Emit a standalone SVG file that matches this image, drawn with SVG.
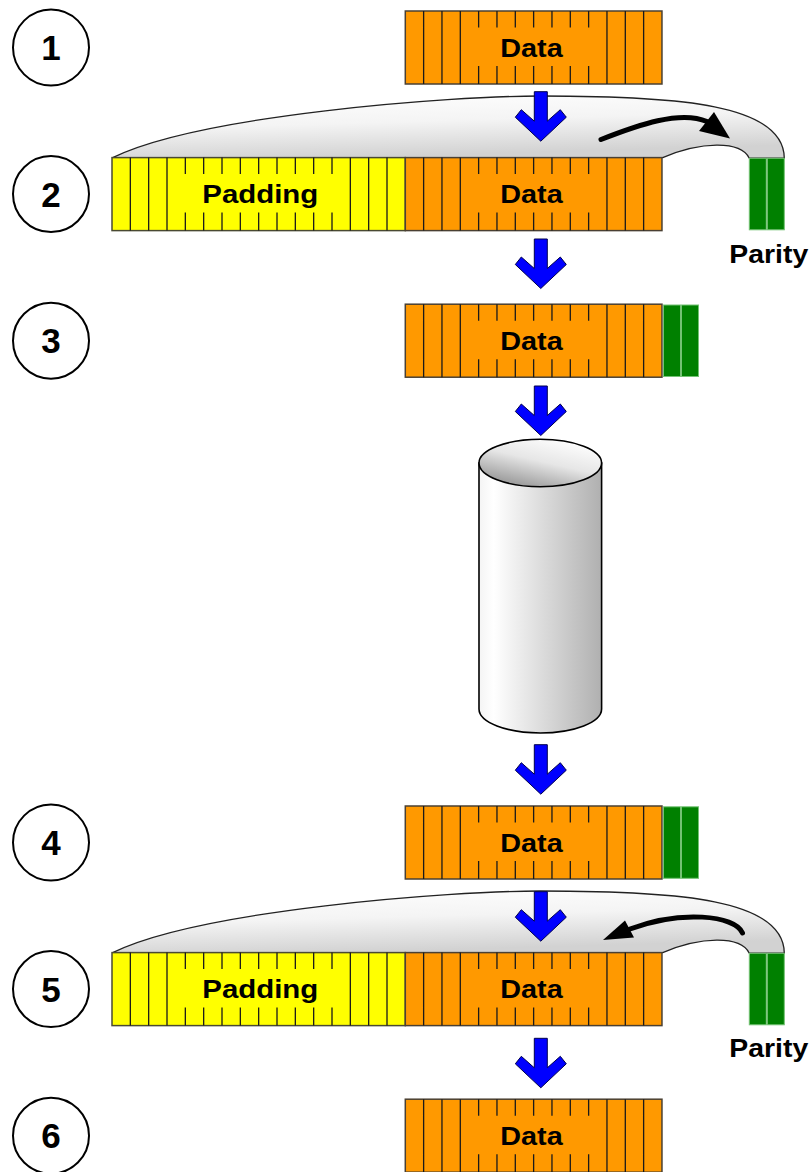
<svg xmlns="http://www.w3.org/2000/svg" xmlns:xlink="http://www.w3.org/1999/xlink" width="812" height="1172" viewBox="0 0 812 1172">
<style>
.num{font-family:"Liberation Sans",Arial,sans-serif;font-weight:bold;font-size:35px;text-anchor:middle;fill:#000}
.lbl{font-family:"Liberation Sans",Arial,sans-serif;font-weight:bold;font-size:26.5px;text-anchor:middle;fill:#000}
.circ{fill:#fff;stroke:#000;stroke-width:2}
.cells{fill:none;stroke:#1a1a1a;stroke-width:1.3}
.bar{fill:#008000;stroke:#74c274;stroke-width:1}
.blue{fill:#0000ff;stroke:#00004d;stroke-width:1}
.swoosh{fill:url(#gSwoosh);stroke:#222;stroke-width:1.3}
.curve{fill:none;stroke:#000;stroke-width:5;stroke-linecap:round}
</style>
<defs>
<linearGradient id="gSwoosh" x1="0" y1="0" x2="0.3" y2="1">
<stop offset="0" stop-color="#ffffff"/>
<stop offset="0.5" stop-color="#f4f4f4"/>
<stop offset="1" stop-color="#d2d2d2"/>
</linearGradient>
<linearGradient id="gCylBody" x1="0" y1="0" x2="1" y2="0">
<stop offset="0" stop-color="#f4f4f4"/>
<stop offset="0.12" stop-color="#ffffff"/>
<stop offset="1" stop-color="#b0b0b0"/>
</linearGradient>
<linearGradient id="gCylTop" x1="0.15" y1="1" x2="0.75" y2="0">
<stop offset="0" stop-color="#8c8c8c"/>
<stop offset="0.55" stop-color="#e6e6e6"/>
<stop offset="1" stop-color="#ffffff"/>
</linearGradient>
<g id="dataBlock">
<rect x="0" y="0" width="256.67" height="73" fill="#ff9900" stroke="#4a4033" stroke-width="1.5"/>
<path class="cells" d="M18.33,0V73M36.67,0V73M55,0V73M201.67,0V73M220,0V73M238.33,0V73M73.33,0V16.5M73.33,55V73M91.67,0V16.5M91.67,55V73M110,0V16.5M110,55V73M128.33,0V16.5M128.33,55V73M146.67,0V16.5M146.67,55V73M165,0V16.5M165,55V73M183.33,0V16.5M183.33,55V73"/>
</g>
<g id="padBlock">
<rect x="0" y="0" width="293.33" height="73" fill="#ffff00" stroke="#4a4a33" stroke-width="1.5"/>
<path class="cells" d="M18.33,0V73M36.67,0V73M55,0V73M238.33,0V73M256.67,0V73M275,0V73M73.33,0V16.5M73.33,55V73M91.67,0V16.5M91.67,55V73M110,0V16.5M110,55V73M128.33,0V16.5M128.33,55V73M146.67,0V16.5M146.67,55V73M165,0V16.5M165,55V73M183.33,0V16.5M183.33,55V73M201.67,0V16.5M201.67,55V73M220,0V16.5M220,55V73"/>
</g>
<g id="parity">
<rect class="bar" x="0" y="0" width="17" height="71.5"/>
<rect class="bar" x="18" y="0" width="17" height="71.5"/>
</g>
<polygon id="blueArrow" class="blue" points="-6.5,0 6.5,0 6.5,29.5 19.5,18 25.5,25.5 0,49.5 -25.5,25.5 -19.5,18 -6.5,29.5"/>
</defs>
<rect width="812" height="1172" fill="#fff"/>

<g id="connectors">
<path id="swoosh2" class="swoosh" d="M112.7,157.6 C200,115 450,96 540,96 C680,96 784,104 784.3,158.2 L749.3,158.2 C740,140 700,142 662.7,157.6 Z"/>
<path id="swoosh5" class="swoosh" transform="translate(0,795)" d="M112.7,157.6 C200,115 450,96 540,96 C680,96 784,104 784.3,158.2 L749.3,158.2 C740,140 700,142 662.7,157.6 Z"/>
</g>

<g id="step1">
<circle class="circ" cx="51" cy="47.5" r="38"/>
<text class="num" x="51" y="60">1</text>
<use xlink:href="#dataBlock" x="405.3" y="11"/>
<text class="lbl" x="531.5" y="56.5" textLength="62.5" lengthAdjust="spacingAndGlyphs">Data</text>
</g>

<g id="step2">
<circle class="circ" cx="51" cy="194.1" r="38"/>
<text class="num" x="51" y="206.6">2</text>
<use xlink:href="#padBlock" x="112" y="157.6"/>
<use xlink:href="#dataBlock" x="405.3" y="157.6"/>
<text class="lbl" x="260.3" y="203.1" textLength="116" lengthAdjust="spacingAndGlyphs">Padding</text>
<text class="lbl" x="531.5" y="203.1" textLength="62.5" lengthAdjust="spacingAndGlyphs">Data</text>
<use xlink:href="#parity" x="749.3" y="158.3"/>
<text class="lbl" x="768.8" y="262.7" textLength="79" lengthAdjust="spacingAndGlyphs">Parity</text>
</g>

<g id="step3">
<circle class="circ" cx="51" cy="340.7" r="38"/>
<text class="num" x="51" y="353.2">3</text>
<use xlink:href="#dataBlock" x="405.3" y="304.2"/>
<text class="lbl" x="531.5" y="349.7" textLength="62.5" lengthAdjust="spacingAndGlyphs">Data</text>
<use xlink:href="#parity" x="663.5" y="305"/>
</g>

<g id="storage">
<path d="M479,463 V709 A61.3,24 0 0 0 601.6,709 V463 Z" fill="url(#gCylBody)" stroke="#000" stroke-width="1.6"/>
<ellipse cx="540.3" cy="463" rx="61.3" ry="23.7" fill="url(#gCylTop)" stroke="#000" stroke-width="1.6"/>
</g>

<g id="step4">
<circle class="circ" cx="51" cy="842.5" r="38"/>
<text class="num" x="51" y="855">4</text>
<use xlink:href="#dataBlock" x="405.3" y="806"/>
<text class="lbl" x="531.5" y="851.5" textLength="62.5" lengthAdjust="spacingAndGlyphs">Data</text>
<use xlink:href="#parity" x="663.5" y="806.8"/>
</g>

<g id="step5">
<circle class="circ" cx="51" cy="989.1" r="38"/>
<text class="num" x="51" y="1001.6">5</text>
<use xlink:href="#padBlock" x="112" y="952.6"/>
<use xlink:href="#dataBlock" x="405.3" y="952.6"/>
<text class="lbl" x="260.3" y="998.1" textLength="116" lengthAdjust="spacingAndGlyphs">Padding</text>
<text class="lbl" x="531.5" y="998.1" textLength="62.5" lengthAdjust="spacingAndGlyphs">Data</text>
<use xlink:href="#parity" x="749.3" y="953.3"/>
<text class="lbl" x="768.8" y="1057.3" textLength="79" lengthAdjust="spacingAndGlyphs">Parity</text>
</g>

<g id="step6">
<circle class="circ" cx="51" cy="1135.7" r="38"/>
<text class="num" x="51" y="1148.2">6</text>
<use xlink:href="#dataBlock" x="405.3" y="1099.2"/>
<text class="lbl" x="531.5" y="1144.7" textLength="62.5" lengthAdjust="spacingAndGlyphs">Data</text>
</g>

<g id="arrows">
<use xlink:href="#blueArrow" x="540.8" y="91.7"/>
<use xlink:href="#blueArrow" x="540.8" y="239"/>
<use xlink:href="#blueArrow" x="540.8" y="386"/>
<use xlink:href="#blueArrow" x="540.8" y="744.7"/>
<use xlink:href="#blueArrow" x="540.8" y="891.7"/>
<use xlink:href="#blueArrow" x="540.8" y="1038.3"/>
<path class="curve" d="M601,139.5 C638,125 680,110 707,121.5"/>
<polygon points="730,138.5 699,131 714,112" fill="#000"/>
<path class="curve" d="M742.5,933 C735,915 680,910 630,929"/>
<polygon points="603,940 625,920.5 634,937.5" fill="#000"/>
</g>
</svg>
